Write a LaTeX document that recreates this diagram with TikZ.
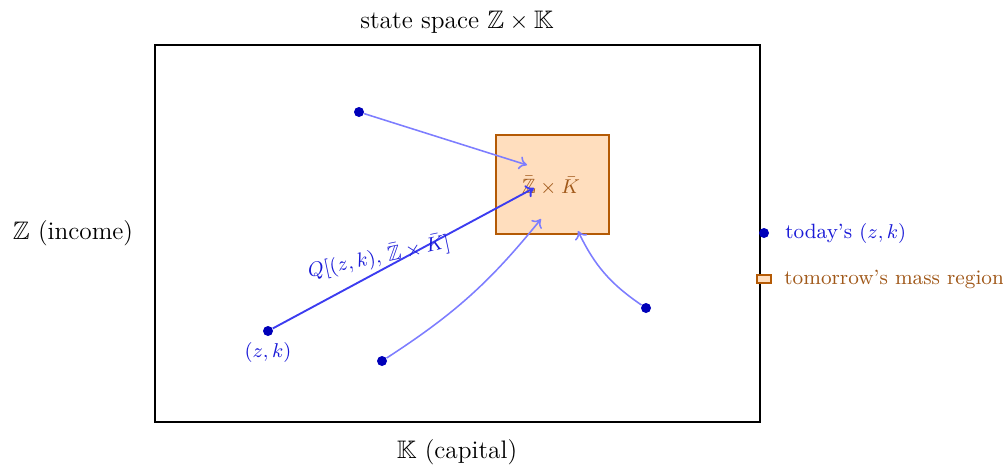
\documentclass[tikz,border=0pt]{standalone}
\usepackage{amssymb}
\usetikzlibrary{arrows.meta}
\definecolor{dotblue}{RGB}{0,0,185}
\definecolor{lightarr}{RGB}{125,125,255}
\definecolor{strongarr}{RGB}{60,60,240}
\definecolor{txtblue}{RGB}{25,25,215}
\definecolor{boxfill}{RGB}{255,222,190}
\definecolor{boxline}{RGB}{180,90,5}
\definecolor{boxtxt}{RGB}{160,88,25}
\tikzset{
  mainlabel/.style={font=\fontsize{11.4}{13}\selectfont, inner sep=0pt},
  smalllabel/.style={font=\fontsize{9.3}{11}\selectfont, inner sep=0pt},
  dotnode/.style={circle, fill=dotblue, inner sep=0pt, minimum size=10*0.45pt},
  lightarrow/.style={draw=lightarr, line width=0.7pt, -{To[length=3.5pt,width=6pt]}},
  strongarrow/.style={draw=strongarr, line width=0.85pt, -{To[length=3.5pt,width=6pt]}},
  massbox/.style={draw=boxline, fill=boxfill, line width=0.9pt},
}
\begin{document}
\begin{tikzpicture}[x=0.45pt, y=-0.45pt]
\useasboundingbox (0,0) rectangle (1003,464);
% state space frame
\node[draw=black, line width=0.9pt, minimum width=605*0.45pt, minimum height=377*0.45pt, inner sep=0pt] (frame) at (457.5,233.5) {};
\node[mainlabel] (title) at (457,22) {state space $\mathbb{Z}\times\mathbb{K}$};
\node[mainlabel] (zlab) at (73,233) {$\mathbb{Z}$ (income)};
\node[mainlabel] (klab) at (457,452) {$\mathbb{K}$ (capital)};
% tomorrow's mass region
\node[massbox, minimum width=113*0.45pt, minimum height=99*0.45pt, inner sep=0pt] (mass) at (552.5,184.5) {};
\node[smalllabel, text=boxtxt] (masslab) at (551,186) {$\bar{\mathbb{Z}}\times\bar{K}$};
% targets inside box
\coordinate (t1) at (527,165);
\coordinate (t2) at (534,188);
\coordinate (t3) at (541,219);
\coordinate (t4) at (578,231);
% today's points
\node[dotnode] (p1) at (359,112) {};
\node[dotnode] (p2) at (268,331) {};
\node[dotnode] (p3) at (382,361) {};
\node[dotnode] (p4) at (646,308) {};
\node[smalllabel, text=txtblue] (p2lab) at (268,352) {$(z,k)$};
% arrows
\draw[lightarrow] (p1) -- (t1);
\draw[strongarrow] (p2) -- (t2);
\draw[lightarrow] (p3) to[bend right=9] (t3);
\draw[lightarrow] (p4) to[bend left=15] (t4);
\node[smalllabel, text=txtblue, rotate=12] (qlab) at (379,257) {$Q[(z,k),\,\bar{\mathbb{Z}}\times\bar{K}]$};
% legend
\node[dotnode] (legdot) at (764,233) {};
\node[smalllabel, text=txtblue, anchor=west] (legdottxt) at (785,233) {today's $(z,k)$};
\node[massbox, line width=0.6pt, minimum width=14*0.45pt, minimum height=8*0.45pt, inner sep=0pt] (legbox) at (764,279) {};
\node[smalllabel, text=boxtxt, anchor=west] (legboxtxt) at (784,279) {tomorrow's mass region};
\end{tikzpicture}
\end{document}
